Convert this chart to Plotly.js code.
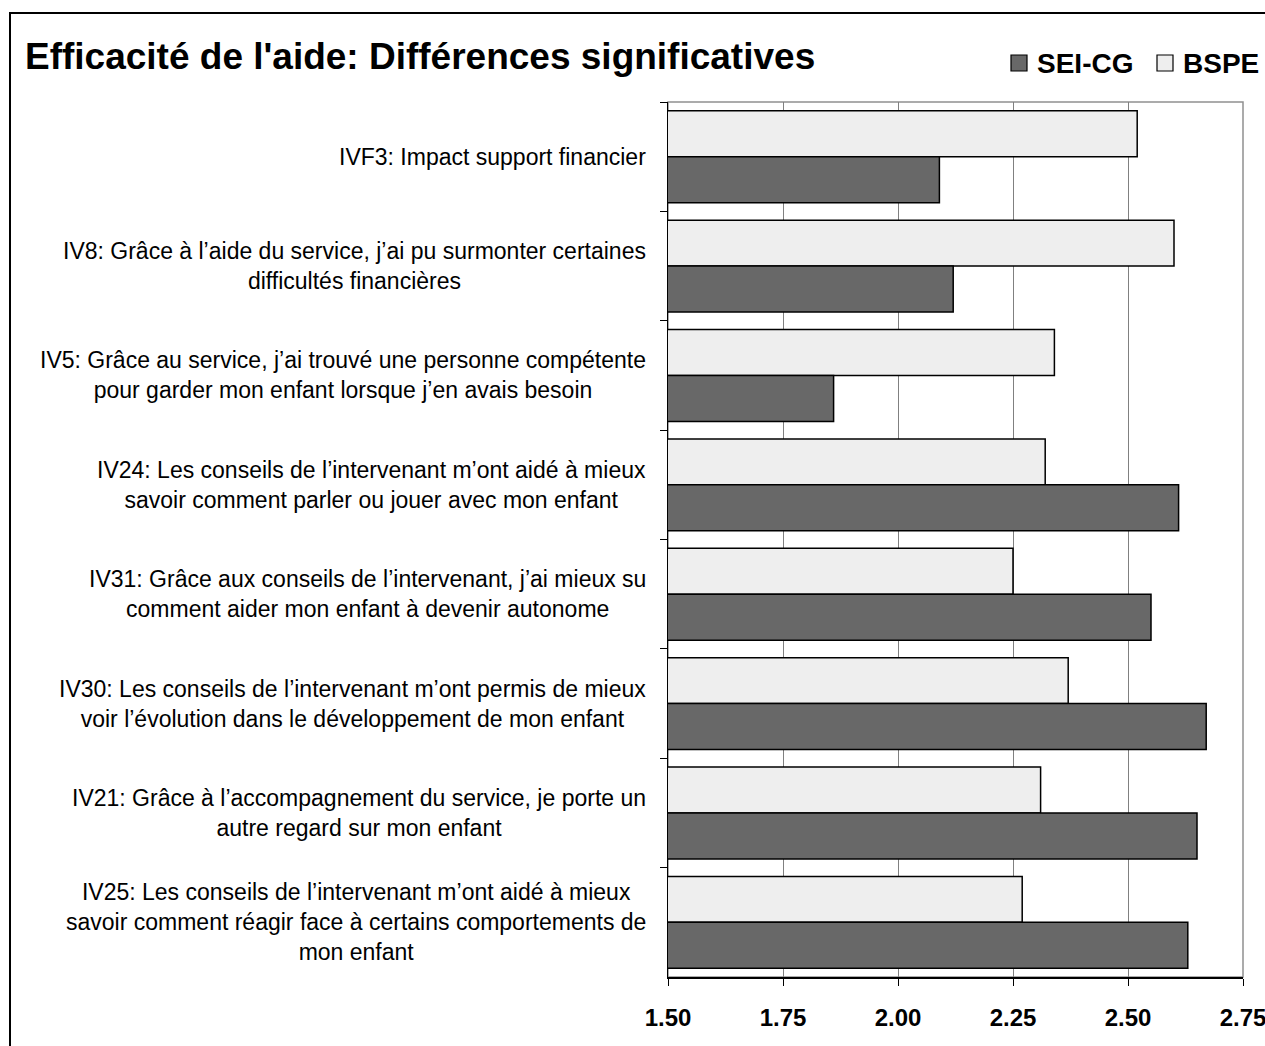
<!DOCTYPE html>
<html><head><meta charset="utf-8">
<script src="https://cdn.plot.ly/plotly-3.0.1.min.js"></script>
<style>html,body{margin:0;padding:0;background:#fff;overflow:hidden}#chart{width:1265px;height:1046px}</style>
</head><body><div id="chart"></div>
<script>
const categories = [
  "IVF3: Impact support financier",
  "IV8: Grâce à l’aide du service, j’ai pu surmonter certaines<br>difficultés financières",
  "IV5: Grâce au service, j’ai trouvé une personne compétente<br>pour garder mon enfant lorsque j’en avais besoin",
  "IV24: Les conseils de l’intervenant m’ont aidé à mieux<br>savoir comment parler ou jouer avec mon enfant",
  "IV31: Grâce aux conseils de l’intervenant, j’ai mieux su<br>comment aider mon enfant à devenir autonome",
  "IV30: Les conseils de l’intervenant m’ont permis de mieux<br>voir l’évolution dans le développement de mon enfant",
  "IV21: Grâce à l’accompagnement du service, je porte un<br>autre regard sur mon enfant",
  "IV25: Les conseils de l’intervenant m’ont aidé à mieux<br>savoir comment réagir face à certains comportements de<br>mon enfant"
];
const seriesNames = ["SEI-CG", "BSPE"];
const seiValues  = [2.09, 2.12, 1.86, 2.61, 2.55, 2.67, 2.65, 2.63];
const bspeValues = [2.52, 2.60, 2.34, 2.32, 2.25, 2.37, 2.31, 2.27];
const xTickValues = [1.50, 1.75, 2.00, 2.25, 2.50, 2.75];
const titleText = "Efficacité de l'aide: Différences significatives";

const FONT = "Liberation Sans, Arial, Helvetica, sans-serif";
const SEI_COLOR = "#686868", BSPE_COLOR = "#eeeeee";

const traces = [
  {
    type: "bar", orientation: "h", name: seriesNames[1],
    y: categories, x: bspeValues,
    marker: {color: BSPE_COLOR, line: {color: "#000000", width: 1.5}},
    hoverinfo: "x", showlegend: false
  },
  {
    type: "bar", orientation: "h", name: seriesNames[0],
    y: categories, x: seiValues,
    marker: {color: SEI_COLOR, line: {color: "#000000", width: 1.5}},
    hoverinfo: "x", showlegend: false
  }
];

const W = 1265, H = 1046;
const L = 668, R = 22, T = 102, B = 69;
const pw = W - L - R, ph = H - T - B;
const px = v => (v - L) / pw;          // pixel x -> paper x
const py = v => (H - B - v) / ph;      // pixel y -> paper y

const annotations = categories.map(c => ({
  text: c, x: 0, xref: "paper", xanchor: "right", xshift: -20,
  y: c, yref: "y", yanchor: "middle", align: "center", showarrow: false,
  font: {family: FONT, size: 23, color: "#000"}
}));

// legend (drawn manually so the squares match)
const legendItems = [
  {name: seriesNames[0], color: SEI_COLOR, sq: 1011, tx: 1035},
  {name: seriesNames[1], color: BSPE_COLOR, sq: 1157, tx: 1181}
];
const shapes = [
  {type: "rect", xref: "paper", yref: "paper", x0: 0, x1: 1, y0: 0, y1: 1,
   line: {color: "#909090", width: 1.5}, layer: "below"},
  {type: "rect", xref: "paper", yref: "paper",
   x0: px(10), x1: px(W + 20), y0: py(H + 20), y1: py(13),
   line: {color: "#000000", width: 2}, layer: "below"}
];
legendItems.forEach(it => {
  shapes.push({type: "rect", xref: "paper", yref: "paper",
    x0: px(it.sq), x1: px(it.sq + 16), y0: py(71), y1: py(55),
    fillcolor: it.color, line: {color: "#000", width: 1.2}});
  annotations.push({text: "<b>" + it.name + "</b>", xref: "paper", yref: "paper",
    x: px(it.tx), xanchor: "left", y: py(63), yanchor: "middle", showarrow: false,
    font: {family: FONT, size: 28, color: "#000"}});
});

const layout = {
  width: W, height: H,
  margin: {l: L, r: R, t: T, b: B, pad: 0, autoexpand: false},
  paper_bgcolor: "#ffffff", plot_bgcolor: "#ffffff",
  font: {family: FONT, color: "#000"},
  title: {
    text: titleText, xref: "container", yref: "container",
    x: 25 / W, xanchor: "left", y: 1 - 56 / H, yanchor: "middle",
    font: {family: FONT, size: 37, weight: "bold", color: "#000"}
  },
  barmode: "group", bargap: 0.16, bargroupgap: 0,
  xaxis: {
    range: [1.5, 2.75], tickvals: xTickValues, tickformat: ".2f",
    showgrid: true, gridcolor: "#808080", gridwidth: 1,
    zeroline: false, showline: true, linecolor: "#000", linewidth: 1.5,
    ticks: "outside", ticklen: 7, tickcolor: "#000", tickwidth: 1,
    ticklabelstandoff: 12, ticklabeloverflow: "allow",
    tickfont: {family: FONT, size: 24, weight: "bold", color: "#000"},
    fixedrange: true
  },
  yaxis: {
    type: "category", autorange: "reversed",
    showgrid: false, zeroline: false,
    showline: true, linecolor: "#000", linewidth: 1.5,
    ticks: "outside", tickson: "boundaries", ticklen: 7, tickcolor: "#000",
    showticklabels: false, fixedrange: true
  },
  showlegend: false,
  annotations: annotations,
  shapes: shapes
};

Plotly.newPlot("chart", traces, layout, {displayModeBar: false, staticPlot: true});
</script>
</body></html>
